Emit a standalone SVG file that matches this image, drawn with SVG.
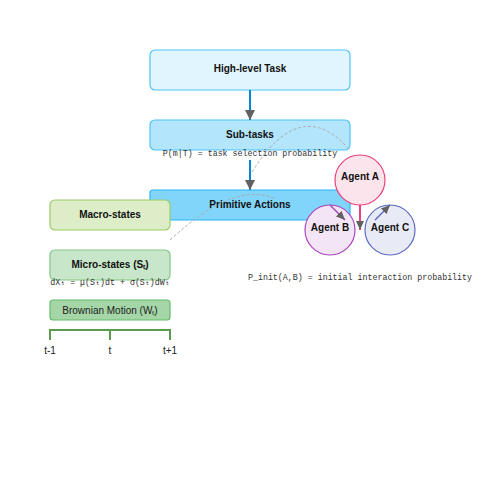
<svg xmlns="http://www.w3.org/2000/svg" width="500" height="500" viewBox="0 0 500 500">
<defs>
<marker id="ah" markerUnits="userSpaceOnUse" markerWidth="10" markerHeight="10" refX="10" refY="5" orient="auto"><path d="M0,0 L10,5 L0,10 Z" fill="#616161"/></marker>
<marker id="ahs" markerUnits="userSpaceOnUse" markerWidth="9" markerHeight="8" refX="9" refY="4" orient="auto"><path d="M0,0 L9,4 L0,8 Z" fill="#616161"/></marker>
<style>
.lbl{font-family:"Liberation Sans",Arial,sans-serif;font-size:10px;font-weight:bold;fill:#111;text-anchor:middle}
.lbn{font-family:"Liberation Sans",Arial,sans-serif;font-size:10px;fill:#222;text-anchor:middle}
.mono{font-family:"Liberation Mono","DejaVu Sans Mono",monospace;font-size:8.3px;fill:#333;text-anchor:middle}
.dash{fill:none;stroke:#aaaaaa;stroke-width:1;stroke-dasharray:3,2}
</style>
</defs>
<rect width="500" height="500" fill="#ffffff"/>
<g id="high-level-task"><rect x="150" y="50" width="200" height="40" rx="5" fill="#e1f5fe" stroke="#4fc3f7" stroke-width="1.2"/><text class="lbl" x="250" y="72">High-level Task</text></g>
<g id="sub-tasks"><rect x="150" y="120" width="200" height="30" rx="5" fill="#b3e5fc" stroke="#4fc3f7" stroke-width="1.2"/><text class="lbl" x="250" y="138">Sub-tasks</text></g>
<g id="primitive-actions"><rect x="150" y="190" width="200" height="30" rx="3" fill="#81d4fa" stroke="#29b6f6" stroke-width="1.2"/><text class="lbl" x="250" y="208">Primitive Actions</text></g>
<g id="macro-states"><rect x="50" y="200" width="120" height="30" rx="5" fill="#dcedc8" stroke="#9ccc65" stroke-width="1.2"/><text class="lbl" x="110" y="218">Macro-states</text></g>
<g id="micro-states"><rect x="50" y="250" width="120" height="30" rx="5" fill="#c8e6c9" stroke="#81c784" stroke-width="1.2"/><text class="lbl" x="110" y="268">Micro-states (Sₜ)</text></g>
<g id="brownian-motion"><rect x="50" y="300" width="120" height="20" rx="3" fill="#a5d6a7" stroke="#66bb6a" stroke-width="1.2"/><text class="lbn" x="110" y="313.5">Brownian Motion (Wₜ)</text></g>
<g id="timeline" fill="none" stroke="#5b9a4f" stroke-width="2"><path d="M50,340 L50,330 L170,330 L170,340 M110,330 L110,340"/></g>
<g id="timeline-labels"><text class="lbn" x="50" y="354">t-1</text><text class="lbn" x="110" y="354">t</text><text class="lbn" x="170" y="354">t+1</text></g>
<g id="agent-a"><circle cx="360" cy="180" r="25" fill="#fce4ec" stroke="#ec407a" stroke-width="1.2"/><text class="lbl" x="360" y="180">Agent A</text></g>
<g id="agent-b"><circle cx="330" cy="230" r="25" fill="#f3e5f5" stroke="#ab47bc" stroke-width="1.2"/><text class="lbl" x="330" y="230.5">Agent B</text></g>
<g id="agent-c"><circle cx="390" cy="230" r="25" fill="#e8eaf6" stroke="#5c6bc0" stroke-width="1.2"/><text class="lbl" x="390" y="230.5">Agent C</text></g>
<g id="annotations">
<text class="mono" x="250" y="155.5">P(m|T) = task selection probability</text>
<text class="mono" x="110" y="285">dXₜ = μ(Sₜ)dt + σ(Sₜ)dWₜ</text>
<text class="mono" x="360" y="280">P_init(A,B) = initial interaction probability</text>
</g>
<g id="connectors">
<line x1="250" y1="90" x2="250" y2="120" stroke="#0288d1" stroke-width="2" marker-end="url(#ah)"/>
<line x1="250" y1="160" x2="250" y2="190" stroke="#0288d1" stroke-width="2" marker-end="url(#ah)"/>
<line x1="360" y1="205" x2="360" y2="230" stroke="#ec407a" stroke-width="2" marker-end="url(#ahs)"/>
<line x1="330" y1="205" x2="345" y2="220" stroke="#ab47bc" stroke-width="1.5" marker-end="url(#ahs)"/>
<line x1="375" y1="220" x2="390" y2="205" stroke="#5c6bc0" stroke-width="1.5" marker-end="url(#ahs)"/>
<path class="dash" d="M252,172 Q300,95 348,148"/>
<path class="dash" d="M170,240 Q235,180 275,199"/>
</g>
</svg>
